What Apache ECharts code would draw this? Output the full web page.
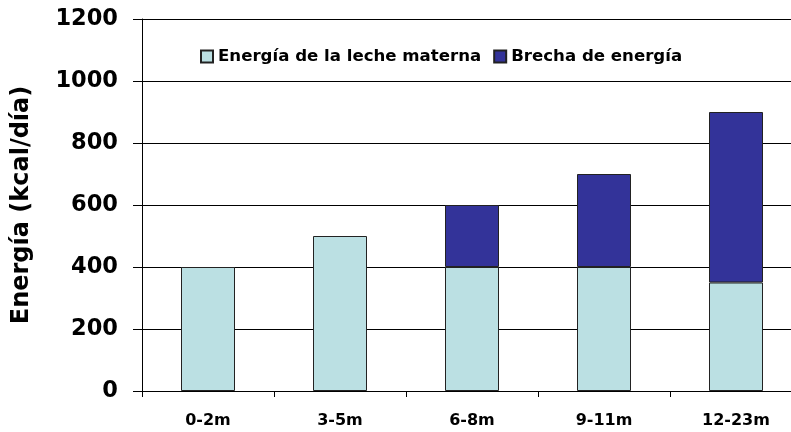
<!DOCTYPE html>
<html>
<head>
<meta charset="utf-8">
<script src="https://cdn.jsdelivr.net/npm/echarts@6/dist/echarts.min.js"></script>
<style>
  html, body { margin: 0; padding: 0; background: #fff; overflow: hidden; }
  #chart { width: 812px; height: 432px; }
</style>
</head>
<body>
<div id="chart"></div>
<script>
// datos
const categories = ["0-2m", "3-5m", "6-8m", "9-11m", "12-23m"];
const lecheMaterna = [400, 500, 400, 400, 350];
const brechaEnergia = [0, 0, 200, 300, 550];
const yTicks = [0, 200, 400, 600, 800, 1000, 1200];

const font = "'DejaVu Sans', Verdana, sans-serif";

const chart = echarts.init(document.getElementById("chart"));

chart.setOption({
    animation: false,
    // el área del gráfico se sale por la derecha, como en el original
    grid: { left: 142, top: 19, width: 660, height: 372, containLabel: false },
    legend: {
        left: 195,
        top: 43,
        itemWidth: 12,
        itemHeight: 12,
        itemGap: 12,
        icon: "rect",
        textStyle: { fontFamily: font, fontWeight: "bold", fontSize: 16.6, color: "#000" },
        data: ["Energía de la leche materna", "Brecha de energía"]
    },
    xAxis: {
        type: "category",
        data: categories,
        axisLine: { lineStyle: { color: "#000", width: 1 } },
        axisTick: { show: true, length: 6, lineStyle: { color: "#000" } },
        axisLabel: { fontFamily: font, fontWeight: "bold", fontSize: 16, color: "#000", margin: 22 }
    },
    yAxis: {
        type: "value",
        min: yTicks[0],
        max: yTicks[yTicks.length - 1],
        interval: 200,
        name: "Energía (kcal/día)",
        nameLocation: "middle",
        nameGap: 108,
        nameTextStyle: { fontFamily: font, fontWeight: "bold", fontSize: 24, color: "#000" },
        axisLine: { show: true, lineStyle: { color: "#000", width: 1 } },
        axisTick: { show: true, length: 9, lineStyle: { color: "#000" } },
        splitLine: { show: true, lineStyle: { color: "#000", width: 1 } },
        axisLabel: {
            fontFamily: font, fontWeight: "bold", fontSize: 22.5, color: "#000", margin: 24,
            formatter: v => String(v)
        }
    },
    series: [
        {
            name: "Energía de la leche materna",
            type: "bar",
            stack: "total",
            barWidth: 54,
            data: lecheMaterna,
            itemStyle: { color: "#BBE0E3", borderColor: "#222", borderWidth: 1 }
        },
        {
            name: "Brecha de energía",
            type: "bar",
            stack: "total",
            barWidth: 54,
            data: brechaEnergia.map(v => (v === 0 ? null : v)),
            itemStyle: { color: "#333399", borderColor: "#222", borderWidth: 1 }
        }
    ]
});
</script>
</body>
</html>
